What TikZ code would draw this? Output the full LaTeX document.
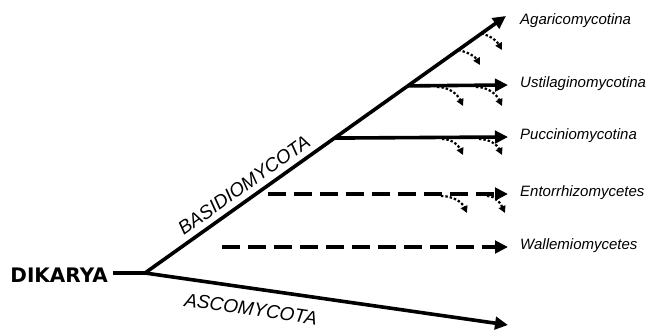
\documentclass[tikz,border=0pt]{standalone}
\usepackage{fontspec}
\setmainfont{Liberation Sans}
\newfontfamily\dikfont{DejaVu Sans}
\usetikzlibrary{arrows.meta}
\begin{document}
\begin{tikzpicture}[x=1pt,y=1pt,
  branch/.style={line width=3.6pt, -{Triangle[length=13pt,width=12.5pt]}},
  dashbranch/.style={branch, line width=3.3pt, dash pattern=on 18pt off 8pt},
  hgt/.style={line width=2.2pt, dash pattern=on 2.4pt off 2pt, -{Triangle[length=7pt,width=7pt]}},
  clade/.style={font=\fontsize{15}{18}\selectfont\itshape, anchor=mid west, inner sep=0pt},
  phylum/.style={font=\fontsize{19}{22}\selectfont\itshape, inner sep=0pt}
]
\useasboundingbox (0,0) rectangle (646,330);

% root and label
\node[font=\dikfont\bfseries\fontsize{20}{24}\selectfont, anchor=east, inner sep=0pt] (dik) at (108,55) {DIKARYA};
\coordinate (root) at (145,57);
\coordinate (btip) at (506,314);
\coordinate (atip) at (508,5);

\draw[line width=3.6pt, shorten <=5pt] (dik.east |- root) -- (root);
\draw[branch] (root) -- (btip);
\draw[branch] (root) -- (atip);

% branch points on the Basidiomycota line
\path (root) -- (btip)
  coordinate[pos=0.728] (ub)
  coordinate[pos=0.525] (pb)
  coordinate[pos=0.932] (a1)
  coordinate[pos=0.868] (a2);

% labels
\node[clade] (agar) at (520,308) {Agaricomycotina};
\node[clade] (usti) at (520,245) {Ustilaginomycotina};
\node[clade] (pucc) at (520,193) {Pucciniomycotina};
\node[clade] (ento) at (520,136) {Entorrhizomycetes};
\node[clade] (wall) at (520,83) {Wallemiomycetes};

\coordinate (utip) at (508,245);
\coordinate (ptip) at (508,193);
\coordinate (eend) at (508,136);
\coordinate (estart) at (268,136);
\coordinate (wend) at (508,83);
\coordinate (wstart) at (222,83);

\draw[branch] (ub) -- (utip);
\draw[branch] (pb) -- (ptip);
\draw[dashbranch] (estart) -- (eend);
\draw[dashbranch] (wstart) -- (wend);

% phylum names
\node[phylum, rotate=35.5] (basi) at (244,145) {BASIDIOMYCOTA};
\node[phylum, rotate=-8.1] (asco) at (251,21) {ASCOMYCOTA};

% dotted gene-transfer arrows
\coordinate (a1e) at (502,280);
\coordinate (a2e) at (480,265);
\draw[hgt] (a1) to[out=-15,in=120] (a1e);
\draw[hgt] (a2) to[out=-15,in=120] (a2e);

\coordinate (u1) at (437,243);
\coordinate (u1e) at (463,224);
\coordinate (u2) at (476,243);
\coordinate (u2e) at (502,224);
\draw[hgt] (u1) to[out=0,in=115] (u1e);
\draw[hgt] (u2) to[out=0,in=115] (u2e);

\coordinate (p1) at (442,191);
\coordinate (p1e) at (463,175);
\coordinate (p2) at (479,191);
\coordinate (p2e) at (502,175);
\draw[hgt] (p1) to[out=0,in=115] (p1e);
\draw[hgt] (p2) to[out=0,in=115] (p2e);

\coordinate (e1) at (441,134);
\coordinate (e1e) at (467,117);
\coordinate (e2) at (487,134);
\coordinate (e2e) at (505,117);
\draw[hgt] (e1) to[out=0,in=115] (e1e);
\draw[hgt] (e2) to[out=0,in=115] (e2e);
\end{tikzpicture}
\end{document}
